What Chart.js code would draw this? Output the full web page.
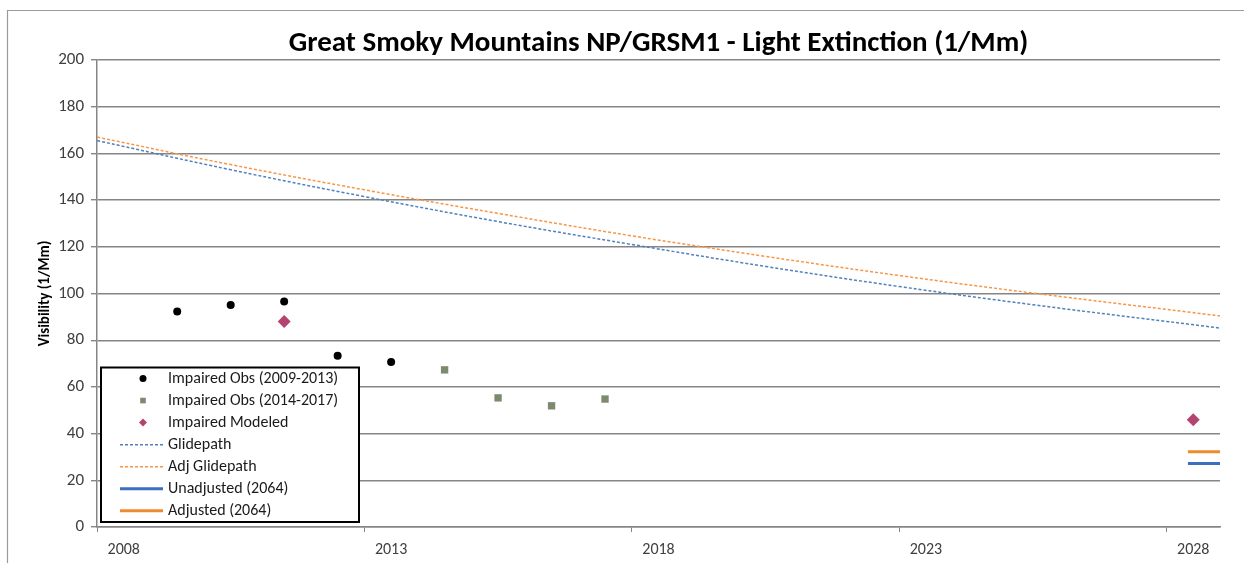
<!DOCTYPE html>
<html>
<head>
<meta charset="utf-8">
<script src="https://cdn.jsdelivr.net/npm/chart.js@4/dist/chart.umd.min.js"></script>
<style>
  html, body { margin: 0; padding: 0; background: #ffffff; }
  #wrap { width: 1244px; height: 566px; position: relative; }
  canvas { display: block; }
</style>
</head>
<body>
<div id="wrap"><canvas id="c" width="1244" height="566"></canvas></div>
<script>
// ---------------- DATA ----------------
const chartTitle = "Great Smoky Mountains NP/GRSM1 - Light Extinction (1/Mm)";
const yAxisTitle = "Visibility (1/Mm)";
const xTickYears = [2008, 2013, 2018, 2023, 2028];

const obsYears1 = [2009, 2010, 2011, 2012, 2013];
const obsVals1  = [92.3, 95.1, 96.6, 73.3, 70.7];

const obsYears2 = [2014, 2015, 2016, 2017];
const obsVals2  = [67.3, 55.3, 51.9, 54.8];

const modeledYears = [2011, 2028];
const modeledVals  = [88.0, 45.9];

const glideYears    = [2007.5, 2010, 2012.5, 2015, 2017.5, 2020, 2022.5, 2025, 2028.5];
const glideVals     = [165.5, 153.0, 141.5, 130.8, 121.0, 111.6, 103.0, 95.2, 85.2];
const adjGlideVals  = [167.0, 155.2, 144.4, 134.3, 124.7, 115.9, 107.7, 100.2, 90.4];

const endYears   = [2027.9, 2028.5];
const unadjVals  = [27.2, 27.2];
const adjVals    = [32.2, 32.2];

const seriesLabels = [
  "Impaired Obs (2009-2013)",
  "Impaired Obs (2014-2017)",
  "Impaired Modeled",
  "Glidepath",
  "Adj Glidepath",
  "Unadjusted (2064)",
  "Adjusted (2064)"
];

// ---------------- STYLE ----------------
const FONT = "Carlito, 'Liberation Sans Narrow', 'Open Sans', sans-serif";
const C_BLACK = "#000000";
const C_GREEN = "#7d8a70";
const C_MODEL = "#b4436f";
const C_GLIDE = "#4f81bd";
const C_ADJGLIDE = "#f79646";
const C_UNADJ = "#3d6fbf";
const C_ADJ = "#ef8a2f";
const C_GRID = "#858585";

function pts(xs, ys) { return xs.map((x, i) => ({ x: x, y: ys[i] })); }

const datasets = [
  { label: seriesLabels[0], data: pts(obsYears1, obsVals1), showLine: false,
    pointStyle: 'circle', pointRadius: 4, backgroundColor: C_BLACK, borderColor: C_BLACK, borderWidth: 0,
    _lg: { kind: 'circle', r: 3.5 } },
  { label: seriesLabels[1], data: pts(obsYears2, obsVals2), showLine: false,
    pointStyle: 'rect', pointRadius: 5.2, backgroundColor: C_GREEN, borderColor: C_GREEN, borderWidth: 0,
    _lg: { kind: 'rect', r: 2.8 } },
  { label: seriesLabels[2], data: pts(modeledYears, modeledVals), showLine: false,
    pointStyle: 'rectRot', pointRadius: 6.5, backgroundColor: C_MODEL, borderColor: C_MODEL, borderWidth: 0,
    _lg: { kind: 'diamond', r: 4 } },
  { label: seriesLabels[3], data: pts(glideYears, glideVals), showLine: true, tension: 0.4,
    pointRadius: 0, borderColor: C_GLIDE, borderWidth: 1.5, borderDash: [3, 2],
    _lg: { kind: 'dash' } },
  { label: seriesLabels[4], data: pts(glideYears, adjGlideVals), showLine: true, tension: 0.4,
    pointRadius: 0, borderColor: C_ADJGLIDE, borderWidth: 1.5, borderDash: [3, 2],
    _lg: { kind: 'dash' } },
  { label: seriesLabels[5], data: pts(endYears, unadjVals), showLine: true,
    pointRadius: 0, borderColor: C_UNADJ, borderWidth: 3,
    _lg: { kind: 'line' } },
  { label: seriesLabels[6], data: pts(endYears, adjVals), showLine: true,
    pointRadius: 0, borderColor: C_ADJ, borderWidth: 3,
    _lg: { kind: 'line' } }
];

// background + outer frame
const framePlugin = {
  id: 'frame',
  beforeDraw(chart) {
    const ctx = chart.ctx;
    ctx.save();
    ctx.fillStyle = '#ffffff';
    ctx.fillRect(0, 0, chart.width, chart.height);
    ctx.strokeStyle = '#9a9a9a';
    ctx.lineWidth = 1.2;
    ctx.beginPath();
    ctx.moveTo(7.5, 563);
    ctx.lineTo(7.5, 10.5);
    ctx.lineTo(chart.width, 10.5);
    ctx.stroke();
    ctx.restore();
  }
};

// legend drawn inside the plot area (bottom-left), like the original
const boxLegend = {
  id: 'boxLegend',
  afterDatasetsDraw(chart) {
    const ctx = chart.ctx;
    const L = { x1: 101, y1: 367.5, x2: 359, y2: 522, markerX: 143, lineX1: 120, lineX2: 163, textX: 168, firstY: 378.5, step: 22.05 };
    ctx.save();
    ctx.fillStyle = '#ffffff';
    ctx.fillRect(L.x1, L.y1, L.x2 - L.x1, L.y2 - L.y1);
    ctx.strokeStyle = '#000000';
    ctx.lineWidth = 2;
    ctx.strokeRect(L.x1, L.y1, L.x2 - L.x1, L.y2 - L.y1);
    chart.data.datasets.forEach((ds, i) => {
      const y = L.firstY + i * L.step;
      const lg = ds._lg;
      ctx.save();
      if (lg.kind === 'circle') {
        ctx.fillStyle = ds.backgroundColor;
        ctx.beginPath(); ctx.arc(L.markerX, y, lg.r, 0, Math.PI * 2); ctx.fill();
      } else if (lg.kind === 'rect') {
        ctx.fillStyle = ds.backgroundColor;
        ctx.fillRect(L.markerX - lg.r, y - lg.r, lg.r * 2, lg.r * 2);
      } else if (lg.kind === 'diamond') {
        ctx.fillStyle = ds.backgroundColor;
        ctx.beginPath();
        ctx.moveTo(L.markerX, y - lg.r); ctx.lineTo(L.markerX + lg.r, y);
        ctx.lineTo(L.markerX, y + lg.r); ctx.lineTo(L.markerX - lg.r, y);
        ctx.closePath(); ctx.fill();
      } else {
        ctx.strokeStyle = ds.borderColor;
        ctx.lineWidth = ds.borderWidth;
        if (ds.borderDash) ctx.setLineDash(ds.borderDash);
        ctx.beginPath(); ctx.moveTo(L.lineX1, y); ctx.lineTo(L.lineX2, y); ctx.stroke();
      }
      ctx.restore();
      ctx.fillStyle = '#1a1a1a';
      ctx.font = "16px " + FONT;
      ctx.textBaseline = 'middle';
      ctx.textAlign = 'left';
      ctx.fillText(ds.label, L.textX, y + 0.5);
    });
    ctx.restore();
  }
};

const chart = new Chart(document.getElementById('c'), {
  type: 'scatter',
  data: { datasets: datasets },
  options: {
    responsive: false,
    animation: false,
    devicePixelRatio: 1,
    layout: { padding: { left: 0, right: 24, top: 0, bottom: 0 } },
    plugins: {
      legend: { display: false },
      tooltip: { enabled: false },
      title: {
        display: true,
        text: chartTitle,
        fullSize: false,
        color: '#000000',
        font: { family: FONT, size: 29, weight: 'bold', lineHeight: 1.1 },
        padding: { top: 28, bottom: 0.1 }
      }
    },
    scales: {
      x: {
        type: 'linear',
        min: 2007.5,
        max: 2028.5,
        afterBuildTicks(scale) {
          scale.ticks = xTickYears.map(v => ({ value: v - 0.5 }));
        },
        afterFit(scale) { scale.height = 39; },
        grid: { drawOnChartArea: false, drawTicks: true, tickLength: 5, color: C_GRID, lineWidth: 1 },
        border: { display: true, color: C_GRID, width: 1.5 },
        ticks: {
          autoSkip: false,
          maxRotation: 0,
          labelOffset: 26.74,
          padding: 8,
          color: '#404040',
          font: { family: FONT, size: 16 },
          callback: (v) => String(Math.round(v + 0.5))
        }
      },
      y: {
        min: 0,
        max: 200,
        afterFit(scale) { scale.width = 97; },
        grid: { color: C_GRID, lineWidth: 1.4, tickLength: 6, drawTicks: true },
        border: { display: true, color: C_GRID, width: 1.5 },
        ticks: {
          stepSize: 20,
          padding: 7,
          color: '#404040',
          font: { family: FONT, size: 17 }
        },
        title: {
          display: true,
          text: yAxisTitle,
          color: '#000000',
          font: { family: FONT, size: 15, weight: 'bold', lineHeight: 1.2 },
          padding: { top: 36, bottom: 0 }
        }
      }
    }
  },
  plugins: [framePlugin, boxLegend]
});
</script>
</body>
</html>
